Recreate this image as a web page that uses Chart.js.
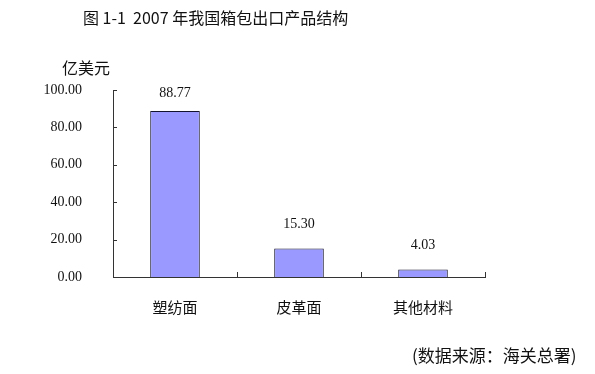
<!DOCTYPE html>
<html>
<head>
<meta charset="utf-8">
<script src="https://cdn.jsdelivr.net/npm/chart.js@4/dist/chart.umd.min.js"></script>
<style>
  html, body { margin: 0; padding: 0; background: #fff; }
  #wrap { width: 595px; height: 374px; }
</style>
</head>
<body>
<div id="wrap"><canvas id="exportCanvas"></canvas></div>
<script>
var categories = ['塑纺面', '皮革面', '其他材料'];
var values = [88.77, 15.30, 4.03];
var yTicks = [0, 20, 40, 60, 80, 100];

var numFont = "'Liberation Serif', 'DejaVu Serif', serif";
var cjkFont = "'Noto Sans CJK SC', sans-serif";

function $each(arr, fn) { for (var i = 0; i < arr.length; i++) fn(arr[i], i); }

// titulo, unidad, fuente, etiquetas y marcas interiores
var extras = {
    id: 'extras',
    afterDraw: function (chart) {
        var c = chart.ctx;
        var xs = chart.scales.x;
        var ys = chart.scales.y;
        c.save();

        // marcas hacia dentro
        c.strokeStyle = '#333';
        c.lineWidth = 1;
        $each(yTicks, function (v) {
            var y = Math.round(ys.getPixelForValue(v)) + 0.5;
            c.beginPath();
            c.moveTo(xs.left, y);
            c.lineTo(xs.left + 4, y);
            c.stroke();
        });
        var w = (xs.right - xs.left) / categories.length;
        for (var k = 1; k <= categories.length; k++) {
            var x = Math.round(xs.left + k * w) + 0.5;
            c.beginPath();
            c.moveTo(x, ys.bottom);
            c.lineTo(x, ys.bottom - 5);
            c.stroke();
        }

        // valores encima de las barras
        c.fillStyle = '#111';
        c.font = '14px ' + numFont;
        c.textAlign = 'center';
        c.textBaseline = 'middle';
        chart.getDatasetMeta(0).data.forEach(function (bar, i) {
            c.fillText(values[i].toFixed(2), bar.x, Math.max(bar.y - 24, 93));
        });

        c.textAlign = 'left';
        c.font = '16px ' + cjkFont;
        c.fillText('图 1-1  2007 年我国箱包出口产品结构', 83, 18);
        c.fillText('亿美元', 62, 68);
        c.font = '17px ' + cjkFont;
        c.fillText('(数据来源：海关总署)', 412, 356);
        c.restore();
    }
};

var ctx = document.getElementById('exportCanvas').getContext('2d');
new Chart(ctx, {
    type: 'bar',
    data: {
        labels: categories,
        datasets: [{
            data: values,
            backgroundColor: '#9999ff',
            borderColor: '#14142e',
            borderWidth: 1,
            barPercentage: 0.4,
            categoryPercentage: 1
        }]
    },
    options: {
        responsive: true,
        maintainAspectRatio: false,
        animation: false,
        layout: { padding: { top: 90, right: 110, left: 0, bottom: 0 } },
        plugins: {
            legend: { display: false },
            tooltip: { enabled: false }
        },
        scales: {
            x: {
                grid: { display: false, drawTicks: false },
                border: { display: true, color: '#333', width: 1 },
                ticks: { color: '#111', padding: 21, font: { family: cjkFont, size: 15 } },
                afterFit: function (s) { s.height = 97; }
            },
            y: {
                min: 0,
                max: 100,
                grid: { display: false, drawTicks: false },
                border: { display: true, color: '#333', width: 1 },
                ticks: {
                    stepSize: 20,
                    color: '#111',
                    padding: 31,
                    font: { family: numFont, size: 14 },
                    callback: function (v) { return Number(v).toFixed(2); }
                },
                afterFit: function (s) { s.width = 113; }
            }
        }
    },
    plugins: [extras]
});
</script>
</body>
</html>
